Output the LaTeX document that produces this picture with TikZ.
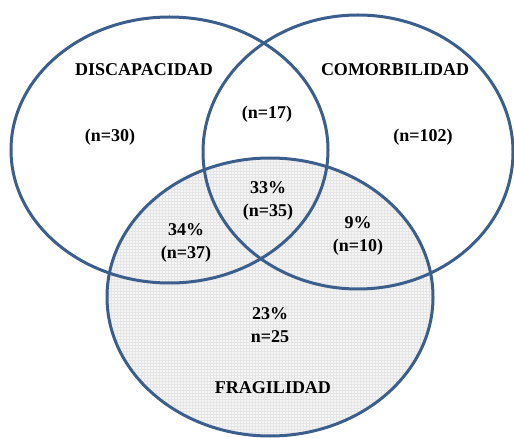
\documentclass[tikz,border=0pt]{standalone}
\usepackage{fontspec}
\setmainfont{Liberation Serif}
\usepackage{tikz}
\usepackage{xcolor}
\usetikzlibrary{patterns}
\definecolor{vennblue}{RGB}{59,94,140}

\begin{document}
\begin{tikzpicture}[x=1pt,y=-1pt]
\tikzset{ring/.style={draw=vennblue,line width=3pt},
  lbl/.style={font=\fontsize{18}{23}\selectfont\bfseries,align=center,inner sep=0pt}}
\useasboundingbox (0,0) rectangle (514,438);
% shaded set
\fill [black!4] (270,297) ellipse (163 and 139);
\fill [pattern=grid,pattern color=black!10] (270,297) ellipse (163 and 139);
% outlines
\draw [ring] (169.5,150) ellipse (158.5 and 133);
\draw [ring] (358,152) ellipse (155 and 137);
\draw [ring] (270,297) ellipse (163 and 139);
% labels
\node [lbl] (disc) at (144,70) {DISCAPACIDAD};
\node [lbl] (comor) at (395,70) {COMORBILIDAD};
\node [lbl] (frag) at (273,388) {FRAGILIDAD};
\node [lbl] (nd) at (110,137) {(n=30)};
\node [lbl] (ndc) at (267,114) {(n=17)};
\node [lbl] (nc) at (423,137) {(n=102)};
\node [lbl] (ndcf) at (268,201) {33\%\\(n=35)};
\node [lbl] (ndf) at (186,243) {34\%\\(n=37)};
\node [lbl] (ncf) at (358,236) {9\%\\(n=10)};
\node [lbl] (nf) at (270,325) {23\%\\n=25};
\end{tikzpicture}
\end{document}
